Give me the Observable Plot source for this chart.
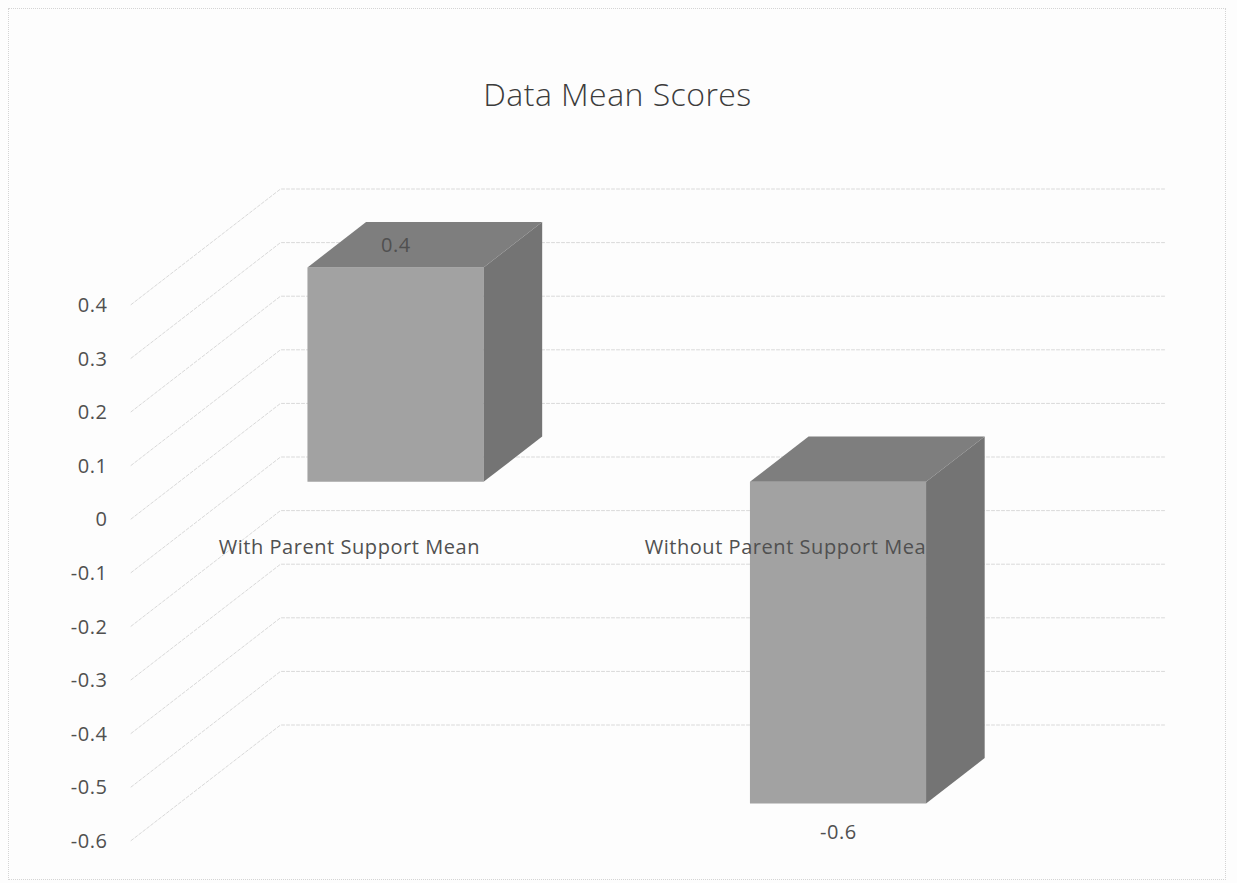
<!DOCTYPE html>
<html>
<head>
<meta charset="utf-8">
<script src="https://cdn.jsdelivr.net/npm/d3@7"></script>
<script src="https://cdn.jsdelivr.net/npm/@observablehq/plot@0.6"></script>
<style>
  html, body { margin: 0; padding: 0; background: #fdfdfd; }
  #chart { position: relative; width: 1237px; height: 883px; overflow: hidden; font-family: "Open Sans", sans-serif; }
  #frame { position: absolute; left: 8px; top: 8px; width: 1218px; height: 872px; border: 1px dotted #d4d4d4; box-sizing: border-box; }
  #title { position: absolute; left: 0; top: 73px; width: 1235px; margin: 0; text-align: center; font-weight: 300; font-size: 32px; letter-spacing: 0.45px; line-height: 42px; color: #3c3c3c; }
  svg { position: absolute; left: 0; top: 0; }
  svg text { letter-spacing: 0.55px; }
</style>
</head>
<body>
<div id="chart">
  <div id="frame"></div>
  <h1 id="title"></h1>
</div>
<script>
const chartTitle = "Data Mean Scores";
const categories = ["With Parent Support Mean", "Without Parent Support Mean"];
const means = [0.4, -0.6];
const tickValues = [0.4, 0.3, 0.2, 0.1, 0, -0.1, -0.2, -0.3, -0.4, -0.5, -0.6];

// Oblique projection: a point in the box is (slot, value, depth), depth 0 at the
// front of the box and 1 at the back wall. Depth shifts it along both scales.
const depthX = 0.3345;
const depthY = 0.2136;
const barFront = 0.315;
const barBack = 0.711;
const barStart = 0.29;
const barEnd = 0.688;
const labelSlot = 0.49;

const px = (slot, depth) => slot + depth * depthX;
const py = (value, depth) => value + depth * depthY;
const vertex = (group, slot, value, depth) => ({group, x: px(slot, depth), y: py(value, depth)});

// Wall gridlines: from the front of the side wall to its back, then along the back wall.
const gridPoints = tickValues.flatMap((v) => [
  vertex(v, 0, v, -0.01),
  vertex(v, 0, v, 1),
  vertex(v, 2, v, 1)
]);

// Each bar runs from zero to its mean; the lid sits on whichever end is higher.
const frontFace = [], topFace = [], sideFace = [];
means.forEach((v, i) => {
  const a = i + barStart, b = i + barEnd, lid = Math.max(v, 0);
  frontFace.push(
    vertex(i, a, v, barFront), vertex(i, b, v, barFront),
    vertex(i, b, 0, barFront), vertex(i, a, 0, barFront)
  );
  topFace.push(
    vertex(i, a, lid, barFront), vertex(i, b, lid, barFront),
    vertex(i, b, lid, barBack), vertex(i, a, lid, barBack)
  );
  sideFace.push(
    vertex(i, b, v, barFront), vertex(i, b, v, barBack),
    vertex(i, b, 0, barBack), vertex(i, b, 0, barFront)
  );
});

const face = (points, fill) => Plot.line(points, {
  x: "x", y: "y", z: "group", fill, stroke: null, curve: "linear-closed"
});

const valueRows = means.map((v, i) => ({
  label: String(v), value: v, x: px(i + labelSlot, barFront), y: py(v, barFront)
}));

const textStyle = {fill: "#505050", fontSize: 20, fontWeight: 400};

const plot = Plot.plot({
  width: 1237,
  height: 883,
  marginLeft: 132,
  marginRight: 220,
  marginTop: 303,
  marginBottom: 44,
  style: {background: "transparent", fontFamily: "'Open Sans', sans-serif", overflow: "visible"},
  x: {domain: [0, 2], axis: null},
  y: {domain: [-0.6, 0.4], axis: null},
  marks: [
    Plot.line(gridPoints, {x: "x", y: "y", z: "group", stroke: "#d9d9d9", strokeWidth: 1, strokeDasharray: "3 2"}),
    Plot.axisY(tickValues, {
      anchor: "left", label: null, tickSize: 0, tickPadding: 25, dy: 2,
      tickFormat: String, ...textStyle
    }),
    face(frontFace, "#a2a2a2"),
    face(topFace, "#7e7e7e"),
    Plot.text(categories, {
      x: (d, i) => i + labelSlot, y: () => 0, dy: 30, text: (d) => d, ...textStyle
    }),
    Plot.text(valueRows.filter((d) => d.value >= 0), {x: "x", y: "y", text: "label", dy: -22, ...textStyle}),
    Plot.text(valueRows.filter((d) => d.value < 0), {x: "x", y: "y", text: "label", dy: 29, ...textStyle}),
    face(sideFace, "#747474")
  ]
});

document.getElementById("title").textContent = chartTitle;
document.getElementById("chart").appendChild(plot);
</script>
</body>
</html>
